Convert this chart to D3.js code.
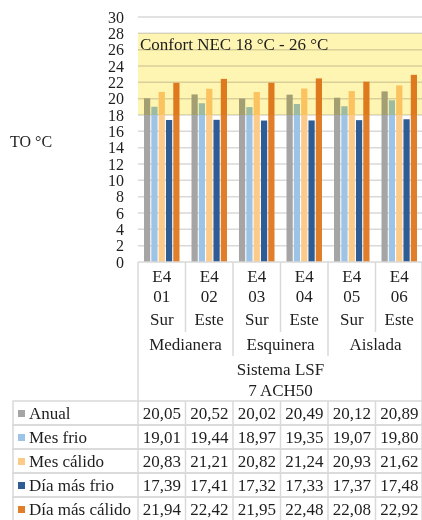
<!DOCTYPE html>
<html>
<head>
<meta charset="utf-8">
<script src="https://cdn.jsdelivr.net/npm/d3@7"></script>
<style>
  body { margin: 0; background: #fff; }
  svg text { font-family: "Liberation Serif", "Times New Roman", Times, "DejaVu Serif", serif !important; fill: #1e1e1e; }
</style>
</head>
<body>
<div id="chart"></div>
<script>
// categories (three levels of the axis)
const codes = ["01", "02", "03", "04", "05", "06"];
const orient = ["Sur", "Este", "Sur", "Este", "Sur", "Este"];
const location_ = ["Medianera", "Esquinera", "Aislada"];
const systemLines = ["Sistema LSF", "7 ACH50"];

// series
const seriesNames = ["Anual", "Mes frio", "Mes cálido", "Día más frio", "Día más cálido"];
const seriesColors = ["#a5a5a5", "#9dc3e6", "#fccb8a", "#2e5c94", "#e07e2a"];
const anual = [20.05, 20.52, 20.02, 20.49, 20.12, 20.89];
const mesFrio = [19.01, 19.44, 18.97, 19.35, 19.07, 19.80];
const mesCalido = [20.83, 21.21, 20.82, 21.24, 20.93, 21.62];
const diaFrio = [17.39, 17.41, 17.32, 17.33, 17.37, 17.48];
const diaCalido = [21.94, 22.42, 21.95, 22.48, 22.08, 22.92];
const seriesValues = [anual, mesFrio, mesCalido, diaFrio, diaCalido];

// comfort band and y ticks
const comfortBand = [18, 28];
const comfortLabel = "Confort NEC 18 °C - 26 °C";
const yTicks = d3.range(0, 31, 2);

const W = 422, H = 520;
const plotLeft = 138, plotRight = 423, plotTop = 17, plotBottom = 262;
const serif = "'Liberation Serif', 'Times New Roman', 'DejaVu Serif', serif";

const svg = d3.select("#chart").append("svg")
    .attr("width", W)
    .attr("height", H)
    .attr("font-family", serif);

const x0 = d3.scaleBand()
    .domain(codes)
    .range([plotLeft, plotRight]);

const x1 = d3.scaleBand()
    .domain(seriesNames)
    .range([6, x0.bandwidth() - 6])
    .paddingInner(0.15);

const y = d3.scaleLinear()
    .domain([0, 30])
    .range([plotBottom, plotTop]);

const color = d3.scaleOrdinal().domain(seriesNames).range(seriesColors);

// gridlines
svg.append("g")
  .selectAll("line")
  .data(yTicks.filter(d => d > 0))
  .join("line")
    .attr("x1", plotLeft)
    .attr("x2", plotRight)
    .attr("y1", d => y(d))
    .attr("y2", d => y(d))
    .attr("stroke", "#d9d9d9")
    .attr("stroke-width", 1.5);

// y axis labels
const yAxis = svg.append("g")
    .attr("transform", "translate(" + (plotLeft - 14) + ",0)")
    .call(d3.axisLeft(y).tickValues(yTicks).tickSize(0).tickPadding(0));
yAxis.attr("font-family", serif).attr("font-size", 16);
yAxis.select(".domain").remove();
yAxis.selectAll("text")
    .attr("fill", "#1e1e1e");

// bars
const rows = codes.map((c, i) => ({ code: c, vals: seriesNames.map((s, k) => ({ s: s, v: seriesValues[k][i] })) }));

svg.append("g")
  .selectAll("g")
  .data(rows)
  .join("g")
    .attr("transform", d => "translate(" + x0(d.code) + ",0)")
  .selectAll("rect")
  .data(d => d.vals)
  .join("rect")
    .attr("x", d => x1(d.s))
    .attr("width", x1.bandwidth())
    .attr("y", d => y(d.v))
    .attr("height", d => y(0) - y(d.v))
    .attr("fill", d => color(d.s));

// comfort band on top, tinting what is under it
svg.append("rect")
    .attr("x", plotLeft)
    .attr("width", plotRight - plotLeft)
    .attr("y", y(comfortBand[1]))
    .attr("height", y(comfortBand[0]) - y(comfortBand[1]))
    .attr("fill", "#fef5b2")
    .style("mix-blend-mode", "multiply");

svg.append("text")
    .attr("x", plotLeft + 2)
    .attr("y", y(comfortBand[1]) + 17)
    .style("font-size", "17px")
    .text(comfortLabel);

// y title
svg.append("text")
    .attr("x", 10)
    .attr("y", 147)
    .style("font-size", "16px")
    .text("TO °C");

// axis line
svg.append("line")
    .attr("x1", plotLeft).attr("x2", plotRight)
    .attr("y1", plotBottom).attr("y2", plotBottom)
    .attr("stroke", "#d9d9d9").attr("stroke-width", 1.5);

// multi-level category labels
const catG = svg.append("g").attr("text-anchor", "middle").style("font-size", "17px");
catG.selectAll(".code1")
  .data(codes)
  .join("text")
    .attr("x", d => x0(d) + x0.bandwidth() / 2)
    .attr("y", 282)
    .text("E4");
catG.selectAll(".code2")
  .data(codes)
  .join("text")
    .attr("x", d => x0(d) + x0.bandwidth() / 2)
    .attr("y", 302)
    .text(d => d);
catG.selectAll(".orient")
  .data(codes)
  .join("text")
    .attr("x", d => x0(d) + x0.bandwidth() / 2)
    .attr("y", 325)
    .text((d, i) => orient[i]);
catG.selectAll(".loc")
  .data(location_)
  .join("text")
    .attr("x", (d, i) => x0(codes[i * 2]) + x0.bandwidth())
    .attr("y", 350)
    .text(d => d);
catG.selectAll(".sys")
  .data(systemLines)
  .join("text")
    .attr("x", (plotLeft + plotRight) / 2)
    .attr("y", (d, i) => 375 + i * 21)
    .text(d => d);

// separator lines in category axis
const sepG = svg.append("g").attr("stroke", "#d9d9d9").attr("stroke-width", 1.5);
codes.forEach((c, i) => {
  if (i === 0) return;
  const xx = x0(c);
  const yEnd = (i % 2 === 0) ? 356 : 332;
  sepG.append("line").attr("x1", xx).attr("x2", xx).attr("y1", plotBottom).attr("y2", yEnd);
});
sepG.append("line").attr("x1", plotLeft).attr("x2", plotLeft).attr("y1", plotBottom).attr("y2", 401);
sepG.append("line").attr("x1", plotRight - 1).attr("x2", plotRight - 1).attr("y1", plotBottom).attr("y2", 401);

// data table
const fmt = d3.formatLocale({ decimal: ",", thousands: ".", grouping: [3], currency: ["", ""] }).format(".2f");
const tableTop = 401, rowH = 24, tableLeft = 13;

const tG = svg.append("g");
seriesNames.forEach((s, k) => {
  const ty = tableTop + k * rowH;
  tG.append("rect")
      .attr("x", tableLeft).attr("y", ty)
      .attr("width", plotRight - 1 - tableLeft).attr("height", rowH)
      .attr("fill", "none").attr("stroke", "#d9d9d9").attr("stroke-width", 1.5);
  tG.append("rect")
      .attr("x", 18).attr("y", ty + 9)
      .attr("width", 7).attr("height", 7)
      .attr("fill", color(s));
  tG.append("text")
      .attr("x", 29).attr("y", ty + 18)
      .style("font-size", "17px")
      .text(s);
  tG.selectAll(null)
    .data(seriesValues[k])
    .join("text")
      .attr("x", (d, i) => x0(codes[i]) + x0.bandwidth() / 2)
      .attr("y", ty + 18)
      .attr("text-anchor", "middle")
      .style("font-size", "17px")
      .text(d => fmt(d));
});
// column lines
tG.selectAll(".col")
  .data(codes)
  .join("line")
    .attr("x1", d => x0(d)).attr("x2", d => x0(d))
    .attr("y1", tableTop).attr("y2", tableTop + rowH * seriesNames.length)
    .attr("stroke", "#d9d9d9").attr("stroke-width", 1.5);
</script>
</body>
</html>
